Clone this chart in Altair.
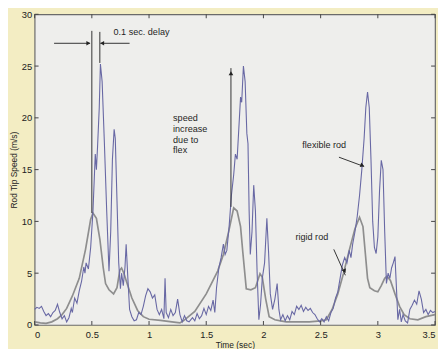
import altair as alt
import pandas as pd

# ---- data ----
rigid_t = [0.0, 0.05, 0.1, 0.15, 0.2, 0.24, 0.28, 0.33, 0.39, 0.445, 0.49, 0.51, 0.54, 0.57, 0.6, 0.62,
           0.65, 0.69, 0.72, 0.745, 0.76, 0.78, 0.8, 0.85, 0.9, 0.95, 1.0, 1.1, 1.2, 1.27, 1.3, 1.4,
           1.5, 1.6, 1.65, 1.7, 1.74, 1.77, 1.8, 1.82, 1.85, 1.89, 1.93, 1.97, 1.99, 2.02, 2.05, 2.1,
           2.15, 2.2, 2.3, 2.4, 2.5, 2.55, 2.6, 2.65, 2.7, 2.75, 2.8, 2.84, 2.87, 2.89, 2.91, 2.93,
           2.97, 3.0, 3.03, 3.06, 3.08, 3.11, 3.15, 3.19, 3.23, 3.28, 3.35, 3.42, 3.5]
rigid_v = [0.3, 0.2, 0.15, 0.3, 0.6, 1.0, 1.6, 2.8, 4.5, 7.3, 10.2, 10.8, 10.3, 8.3, 5.5, 4.0,
           3.4, 3.0, 3.6, 5.3, 5.5, 5.0, 4.3, 2.6, 1.4, 0.8, 0.55, 0.45, 0.3, 0.2, 0.4, 1.3,
           3.0, 5.2, 6.8, 9.2, 11.3, 11.0, 9.5, 7.0, 3.5, 3.4, 3.6, 4.95, 4.6, 2.5, 0.8, 0.5,
           0.4, 0.3, 0.3, 0.3, 0.4, 0.5, 1.5, 3.0, 5.0, 7.2, 9.3, 10.4, 9.5, 7.0, 4.5, 3.6,
           3.3, 3.2, 3.8, 4.5, 4.7, 4.3, 3.0, 1.8, 1.0, 0.6, 0.5, 0.8, 1.0]

flex_t = [0.0, 0.02, 0.04, 0.06, 0.08, 0.1, 0.12, 0.14, 0.16, 0.18, 0.2, 0.22, 0.24, 0.26, 0.28, 0.3,
          0.32, 0.33, 0.35, 0.37, 0.39, 0.41, 0.43, 0.44, 0.45, 0.47, 0.49, 0.51, 0.53, 0.54, 0.55, 0.565,
          0.575, 0.59, 0.61, 0.63, 0.65, 0.665, 0.68, 0.695, 0.705, 0.72, 0.735, 0.75, 0.76, 0.775, 0.79, 0.8,
          0.815, 0.83, 0.85, 0.87, 0.89, 0.91, 0.93, 0.95, 0.97, 0.99, 1.01, 1.03, 1.05, 1.07, 1.09, 1.11,
          1.13, 1.14, 1.15, 1.17, 1.19, 1.21, 1.23, 1.25, 1.27, 1.29, 1.31, 1.33, 1.35, 1.38, 1.4, 1.42,
          1.44, 1.46, 1.48, 1.5, 1.52, 1.54, 1.56, 1.575, 1.59, 1.61, 1.63, 1.65, 1.665, 1.68, 1.7, 1.72,
          1.74, 1.755, 1.77, 1.785, 1.8, 1.81, 1.825, 1.84, 1.855, 1.865, 1.875, 1.885, 1.9, 1.915, 1.93, 1.945,
          1.96, 1.975, 1.99, 2.01, 2.03, 2.045, 2.06, 2.08, 2.1, 2.12, 2.135, 2.15, 2.17, 2.19, 2.21, 2.23,
          2.25, 2.27, 2.29, 2.31, 2.33, 2.35, 2.37, 2.39, 2.41, 2.43, 2.45, 2.47, 2.49, 2.51, 2.53, 2.55,
          2.57, 2.59, 2.61, 2.63, 2.65, 2.67, 2.69, 2.71, 2.73, 2.75, 2.765, 2.78, 2.8, 2.82, 2.84, 2.86,
          2.88, 2.895, 2.91, 2.925, 2.94, 2.955, 2.97, 2.985, 3.0, 3.015, 3.03, 3.045, 3.06, 3.075, 3.09, 3.105,
          3.12, 3.135, 3.15, 3.165, 3.175, 3.19, 3.205, 3.22, 3.24, 3.26, 3.28, 3.3, 3.32, 3.34, 3.36, 3.38,
          3.4, 3.42, 3.44, 3.46, 3.48, 3.5]
flex_v = [1.5, 1.7, 1.6, 1.8, 1.3, 0.9, 1.1, 0.8, 1.2, 1.4, 2.0, 1.2, 0.6, 0.9, 0.3, 0.7,
          1.6, 1.2, 2.6, 2.1, 3.3, 4.2, 5.6, 5.0, 6.0, 5.4, 7.5, 11.0, 16.5, 15.0, 17.2, 21.0,
          25.2, 23.5, 17.5, 11.0, 5.2, 9.0, 16.0, 18.9, 18.0, 12.0, 6.0, 3.5, 5.0, 3.8, 5.6, 7.8,
          4.5, 1.5, 0.8, 0.4, 0.5, 1.2, 1.0, 1.8, 2.8, 3.5, 3.2, 2.6, 2.9, 1.5, 1.0, 1.5,
          0.6, 4.5, 1.2, 0.7, 1.5, 0.9, 1.2, 2.5, 1.0, 0.3, 0.9, 0.4, 0.3, 0.7, 0.4, 1.1,
          0.6, 0.9, 1.6, 1.0, 1.8, 1.4, 2.4, 1.2, 3.6, 5.5, 6.5, 7.8, 6.8, 7.2, 9.5, 12.5,
          14.5, 16.5, 16.0, 19.0, 22.0, 21.5, 25.0, 23.5, 18.5, 17.5, 11.0, 6.8, 9.0, 13.5, 11.0, 5.0,
          0.5, 2.0, 4.5, 6.0, 10.3, 7.0, 3.0, 1.5, 2.5, 4.0, 1.5, 0.5, 1.0, 0.4, 0.9, 0.5,
          1.3, 1.0, 1.8, 1.5, 1.9, 1.3, 1.7, 1.4, 1.6, 1.2, 1.0, 0.6, 0.3, 0.6, 0.3, 0.8,
          0.4, 1.2, 1.6, 2.6, 3.2, 4.5, 5.8, 6.5, 6.0, 7.2, 6.5, 7.8, 9.0, 10.5, 12.5, 15.0,
          18.0, 21.0, 22.5, 21.0, 16.0, 10.0, 7.5, 6.9, 8.5, 13.0, 15.9, 15.0, 9.0, 4.0, 5.0, 4.5,
          5.5, 6.0, 6.6, 3.0, 0.5, 1.5, 0.3, 1.0, 0.4, 0.2, 1.5, 1.9, 2.4, 2.0, 3.3, 2.5,
          1.2, 1.5, 1.0, 1.4, 1.2, 1.3]

x_ticks = [0, 0.5, 1, 1.5, 2, 2.5, 3, 3.5]
y_ticks = [0, 5, 10, 15, 20, 25, 30]

# annotation segments (x, y, x2, y2)
seg_x = [0.5, 0.57, 0.17, 0.83, 1.716, 2.66, 2.615]
seg_y = [10.8, 25.3, 27.2, 27.2, 11.4, 16.2, 7.3]
seg_x2 = [0.5, 0.57, 0.483, 0.575, 1.716, 2.88, 2.716]
seg_y2 = [28.4, 28.3, 27.2, 27.2, 24.8, 15.3, 4.8]

# arrow heads
head_x = [0.47, 0.59, 1.716, 2.865, 2.71]
head_y = [27.2, 27.2, 24.3, 15.4, 5.2]
head_shape = ["triangle-right", "triangle-left", "triangle-up", "triangle-right", "triangle-right"]
head_angle = [0, 0, 0, 20, 66]

# labels
lab_x = [0.69, 1.21, 1.21, 1.21, 1.21, 2.34, 2.28]
lab_y = [28.3, 20.0, 18.95, 17.9, 16.86, 17.4, 8.5]
lab_text = ["0.1 sec. delay", "speed", "increase", "due to", "flex", "flexible rod", "rigid rod"]

W, H = 406, 315
FONT = "Liberation Sans"

xs = alt.Scale(domain=[0, 3.5], nice=False, zero=False)
ys = alt.Scale(domain=[0, 30], nice=False, zero=False)
xax = alt.Axis(values=x_ticks, format="~g", title="Time (sec)", ticks=False, domain=False,
               grid=False, labelPadding=5, titlePadding=1)
yax = alt.Axis(values=y_ticks, title="Rod Tip Speed (m/s)", ticks=False, domain=False,
               grid=False, labelPadding=3, titlePadding=3)

rigid = pd.DataFrame({"t": rigid_t, "v": rigid_v})
flex = pd.DataFrame({"t": flex_t, "v": flex_v})
segs = pd.DataFrame({"t": seg_x, "v": seg_y, "t2": seg_x2, "v2": seg_y2})
heads = pd.DataFrame({"t": head_x, "v": head_y, "shape": head_shape, "angle": head_angle})
labs = pd.DataFrame({"t": lab_x, "v": lab_y, "text": lab_text})
xt = pd.DataFrame({"t": x_ticks})
yt = pd.DataFrame({"v": y_ticks})

X = alt.X("t:Q", scale=xs, axis=xax)
Y = alt.Y("v:Q", scale=ys, axis=yax)

rigid_line = alt.Chart(rigid).mark_line(color="#8e8e8e", strokeWidth=1.7).encode(x=X, y=Y)
flex_line = alt.Chart(flex).mark_line(color="#6868a4", strokeWidth=1.1).encode(x=X, y=Y)

seg_layer = alt.Chart(segs).mark_rule(color="#333333", strokeWidth=1).encode(
    x=X, y=Y, x2="t2:Q", y2="v2:Q")

head_layer = alt.Chart(heads).mark_point(filled=True, size=22, color="#222222", opacity=1).encode(
    x=X, y=Y, shape=alt.Shape("shape:N", scale=None), angle=alt.Angle("angle:Q", scale=None))

text_layer = alt.Chart(labs).mark_text(align="left", baseline="middle", font=FONT, fontSize=9.2,
                                       color="#1e1e1e").encode(x=X, y=Y, text="text:N")

tick_col = "#444444"
xb = alt.Chart(xt).mark_rule(color=tick_col).encode(x=X, y=alt.value(H), y2=alt.value(H - 4))
xtop = alt.Chart(xt).mark_rule(color=tick_col).encode(x=X, y=alt.value(0), y2=alt.value(4))
yl = alt.Chart(yt).mark_rule(color=tick_col).encode(y=Y, x=alt.value(0), x2=alt.value(4))
yr = alt.Chart(yt).mark_rule(color=tick_col).encode(y=Y, x=alt.value(W), x2=alt.value(W - 4))

chart = alt.layer(rigid_line, flex_line, seg_layer, head_layer, text_layer, xb, xtop, yl, yr).properties(
    width=W, height=H,
    autosize=alt.AutoSizeParams(type="none"),
    padding={"left": 27, "top": 4, "right": 3, "bottom": 22},
    background="#f3edc3",
).configure_view(
    stroke="#6a6a6a", strokeWidth=1.2, fill="#eeeeec",
).configure_axis(
    labelFont=FONT, labelFontSize=9.5, labelColor="#222222",
    titleFont=FONT, titleFontSize=8.5, titleFontWeight="normal", titleColor="#222222",
)

chart.save("out.html", embed_options={"renderer": "svg", "actions": False})
